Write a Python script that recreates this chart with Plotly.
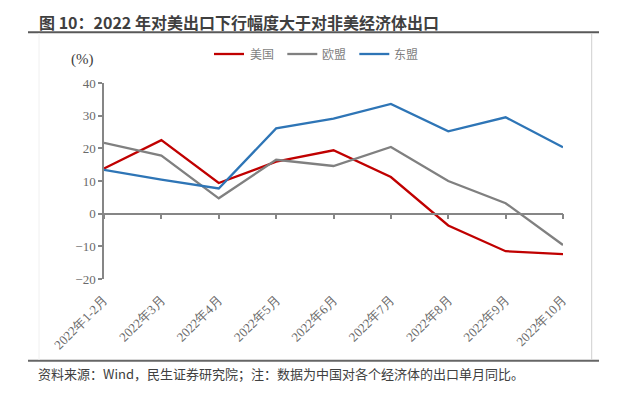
import plotly.graph_objects as go

categories = ["2022年1-2月", "2022年3月", "2022年4月", "2022年5月", "2022年6月",
              "2022年7月", "2022年8月", "2022年9月", "2022年10月"]
us = [13.8, 22.5, 9.4, 15.9, 19.4, 11.2, -3.6, -11.5, -12.4]
eu = [21.7, 17.8, 4.7, 16.5, 14.6, 20.4, 10.0, 3.2, -9.6]
asean = [13.4, 10.4, 7.7, 26.1, 29.1, 33.6, 25.2, 29.5, 20.3]
series_names = ["美国", "欧盟", "东盟"]
colors = ["#C00000", "#808080", "#2E75B6"]
y_ticks = [-20, -10, 0, 10, 20, 30, 40]

# page has an 8px body margin; figure is placed at (8, 8)
OFF = 8
W, H = 623 - 2 * OFF, 397 - 2 * OFF
ML = 104 - OFF
MT = 83 - OFF
MR = (623 - OFF) - 563
MB = (397 - OFF) - 279 + OFF - OFF
MB = H - (279 - OFF)
PW, PH = W - ML - MR, H - MT - MB


def px(x):
    return (x - OFF - ML) / PW


def py(y):
    return 1 - (y - OFF - MT) / PH


fig = go.Figure()
for name, vals, c in zip(series_names, [us, eu, asean], colors):
    fig.add_trace(go.Scatter(x=categories, y=vals, mode="lines", name=name,
                             line=dict(color=c, width=2.3), showlegend=False))
# helper trace for the zero-crossing axis
fig.add_trace(go.Scatter(x=categories, y=[None] * len(categories), xaxis="x2",
                         showlegend=False, hoverinfo="skip"))

serif = "Liberation Serif, Times New Roman, serif"
fig.update_layout(
    width=W, height=H,
    margin=dict(l=ML, r=MR, t=MT, b=MB),
    paper_bgcolor="white", plot_bgcolor="white",
    xaxis=dict(type="category", range=[0, len(categories) - 1], showgrid=False,
               showline=False, zeroline=False, ticks="", tickangle=-45,
               tickfont=dict(family=serif, size=13, color="#6a6a6a"),
               ticklabelstandoff=10),
    xaxis2=dict(type="category", overlaying="x", anchor="free", position=1 / 3,
                range=[0, len(categories) - 1], showgrid=False, showline=True,
                linecolor="#868686", linewidth=1.5, ticks="outside", ticklen=5,
                tickcolor="#868686", tickwidth=1.5, showticklabels=False,
                zeroline=False),
    yaxis=dict(range=[-20, 40], tickvals=y_ticks, showgrid=False, zeroline=False,
               showline=True, linecolor="#868686", linewidth=1.5,
               ticks="outside", ticklen=4, tickcolor="#868686", tickwidth=1.5,
               tickfont=dict(family=serif, size=13, color="#6a6a6a")),
)

shapes = [
    # title underline
    dict(type="line", xref="paper", yref="paper", x0=px(28), x1=px(599),
         y0=py(32.3), y1=py(32.3), line=dict(color="#595959", width=2)),
    # bottom line
    dict(type="line", xref="paper", yref="paper", x0=px(28), x1=px(599),
         y0=py(360.7), y1=py(360.7), line=dict(color="#666666", width=2)),
    # right border
    dict(type="line", xref="paper", yref="paper", x0=px(591.7), x1=px(591.7),
         y0=py(33), y1=py(360), line=dict(color="#cfcfcf", width=1)),
    # left faint border
    dict(type="line", xref="paper", yref="paper", x0=px(39), x1=px(39),
         y0=py(33), y1=py(360), line=dict(color="#f0f0f0", width=1)),
]
legend_pos = [(214, 244, 247.7), (287.3, 317.3, 320), (359.3, 389.3, 391.7)]
annotations = []
for (x0, x1, tx), name, c in zip(legend_pos, series_names, colors):
    shapes.append(dict(type="line", xref="paper", yref="paper", x0=px(x0), x1=px(x1),
                       y0=py(54), y1=py(54), line=dict(color=c, width=2.3)))
    annotations.append(dict(xref="paper", yref="paper", x=px(tx), y=py(54),
                            xanchor="left", yanchor="middle", text=name, showarrow=False,
                            font=dict(family="Noto Sans CJK SC", size=12, color="#7f7f7f")))

annotations += [
    dict(xref="paper", yref="paper", x=px(37), y=py(22), xanchor="left", yanchor="middle",
         text="<b>图 10：2022 年对美出口下行幅度大于对非美经济体出口</b>", showarrow=False,
         font=dict(family="Noto Sans CJK SC", size=16, color="#3f3f3f")),
    dict(xref="paper", yref="paper", x=px(69), y=py(59), xanchor="left", yanchor="middle",
         text="(%)", showarrow=False, font=dict(family=serif, size=15, color="#404040")),
    dict(xref="paper", yref="paper", x=px(36), y=py(373.5), xanchor="left", yanchor="middle",
         text="资料来源：Wind，民生证券研究院；注：数据为中国对各个经济体的出口单月同比。",
         showarrow=False, font=dict(family="Noto Sans CJK SC", size=13, color="#404040")),
]
fig.update_layout(shapes=shapes, annotations=annotations)

fig.write_html("out.html")
